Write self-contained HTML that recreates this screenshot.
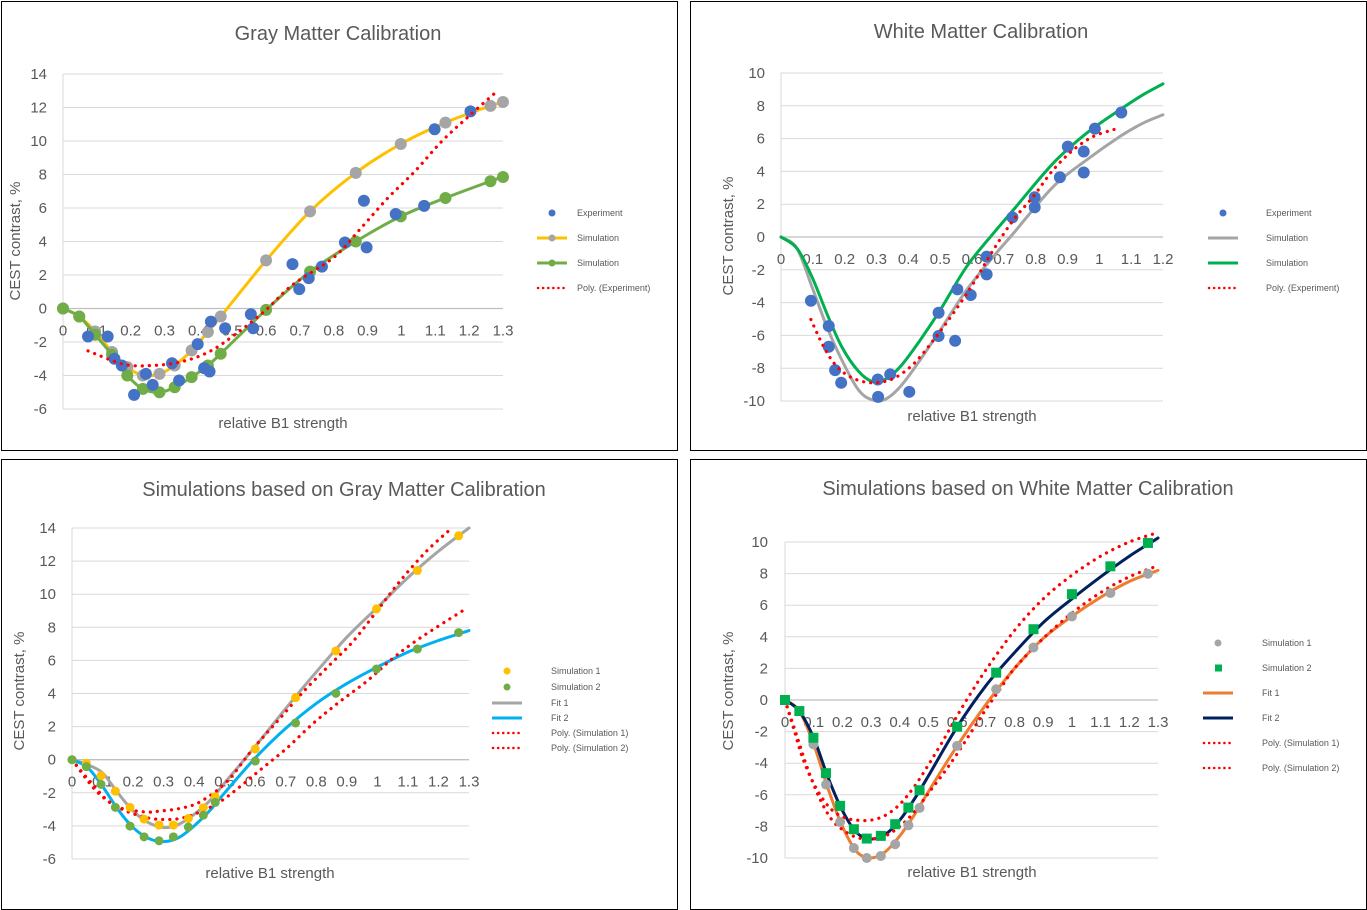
<!DOCTYPE html>
<html><head><meta charset="utf-8"><style>
body{margin:0;background:#fff;}
svg{display:block;font-family:"Liberation Sans",sans-serif;}
</style></head><body>
<svg id="root" width="1367" height="910" viewBox="0 0 1367 910"></svg>
<script>
// ---------- Panel 1: Gray Matter Calibration ----------
const gmSimX=[0,0.048,0.095,0.145,0.19,0.236,0.285,0.33,0.38,0.428,0.466,0.6,0.73,0.865,0.998,1.13,1.263,1.3];
const gmSimYellow=[0,-0.48,-1.37,-2.6,-3.5,-4.0,-3.9,-3.4,-2.5,-1.4,-0.48,2.87,5.8,8.1,9.82,11.1,12.1,12.33];
const gmSimGreen=[0,-0.48,-1.57,-2.77,-4.0,-4.8,-5.0,-4.7,-4.1,-3.4,-2.7,-0.08,2.2,4.0,5.5,6.6,7.6,7.85];
const gmExpX=[0.074,0.132,0.152,0.174,0.21,0.245,0.265,0.322,0.343,0.398,0.417,0.433,0.437,0.479,0.555,0.562,0.678,0.698,0.726,0.765,0.833,0.889,0.897,0.983,1.067,1.098,1.204];
const gmExpY=[-1.67,-1.67,-3.0,-3.4,-5.16,-3.9,-4.56,-3.27,-4.3,-2.13,-3.56,-3.76,-0.78,-1.18,-0.34,-1.18,2.65,1.16,1.81,2.5,3.94,6.43,3.65,5.64,6.13,10.7,11.77];
const gmPolyX=[0.074,0.18,0.267,0.351,0.433,0.514,0.6,0.678,0.8,0.876,0.96,1.04,1.12,1.2,1.284];
const gmPolyY=[-2.53,-3.33,-3.4,-3.17,-2.57,-1.47,-0.08,1.41,3.05,4.7,6.6,8.2,10.0,11.5,13.0];
// ---------- Panel 2: White Matter Calibration ----------
const wmSimX=[0,0.05,0.097,0.144,0.191,0.244,0.29,0.332,0.379,0.437,0.5,0.583,0.667,0.73,0.855,0.96,1.064,1.137,1.2];
const wmSimGreen=[0,-0.69,-2.42,-4.66,-6.7,-8.2,-8.83,-8.63,-7.81,-6.29,-4.46,-1.81,0.22,1.65,4.5,6.33,7.75,8.67,9.34];
const wmSimGray=[0,-0.69,-3.03,-5.47,-7.5,-9.34,-9.95,-9.85,-9.03,-7.5,-5.68,-3.23,-1.2,0.22,3.07,4.7,6.12,6.94,7.45];
const wmExpX=[0.094,0.15,0.15,0.17,0.189,0.304,0.305,0.343,0.403,0.495,0.495,0.554,0.547,0.596,0.646,0.646,0.727,0.797,0.797,0.876,0.901,0.951,0.951,0.986,1.069];
const wmExpY=[-3.89,-5.43,-6.69,-8.12,-8.89,-8.69,-9.75,-8.38,-9.44,-4.62,-6.04,-3.19,-6.33,-3.54,-1.2,-2.28,1.2,2.42,1.81,3.64,5.51,5.21,3.93,6.61,7.59];
const wmPolyX=[0.094,0.134,0.176,0.228,0.29,0.353,0.416,0.479,0.541,0.604,0.667,0.73,0.792,0.855,0.918,0.98,1.048];
const wmPolyY=[-5.03,-6.69,-7.91,-8.63,-8.89,-8.63,-7.75,-6.29,-4.66,-2.83,-0.79,1.04,2.46,4.09,5.31,6.12,6.57];
// ---------- Panel 3: Simulations based on GM ----------
const sgX=[0,0.047,0.095,0.142,0.19,0.236,0.285,0.332,0.381,0.43,0.469,0.6,0.732,0.864,0.997,1.131,1.266];
const sgSim1=[0,-0.22,-0.97,-1.9,-2.88,-3.59,-3.95,-3.95,-3.55,-2.9,-2.24,0.65,3.75,6.57,9.11,11.43,13.53];
const sgSim2=[0,-0.42,-1.49,-2.88,-4.01,-4.66,-4.9,-4.66,-4.07,-3.35,-2.58,-0.08,2.22,4.01,5.48,6.69,7.68];
const sgFitX=[0,0.05,0.1,0.15,0.2,0.25,0.3,0.35,0.4,0.45,0.5,0.6,0.7,0.8,0.9,1.0,1.1,1.2,1.3];
const sgFit1=[0,-0.3,-0.8,-2.0,-3.1,-3.8,-4.1,-3.9,-3.3,-2.5,-1.4,0.8,3.1,5.3,7.4,9.2,11.0,12.6,14.0];
const sgFit2=[0,-0.45,-1.6,-3.0,-4.1,-4.75,-4.95,-4.7,-4.0,-3.1,-2.0,0.1,1.9,3.4,4.6,5.6,6.5,7.2,7.8];
const sgPoly1X=[0,0.06,0.136,0.234,0.289,0.354,0.42,0.507,0.594,0.681,0.768,0.855,0.92,0.997,1.073,1.16,1.231];
const sgPoly1Y=[0,-1.33,-2.74,-3.15,-3.1,-2.94,-2.54,-1.33,0.69,2.5,4.31,5.93,7.14,8.95,10.77,12.58,13.79];
const sgPoly2X=[0,0.082,0.158,0.234,0.289,0.354,0.42,0.485,0.55,0.616,0.703,0.79,0.877,0.964,1.051,1.139,1.28];
const sgPoly2Y=[0,-1.94,-2.94,-3.45,-3.61,-3.55,-3.15,-2.54,-1.63,-0.62,0.69,2.2,3.51,4.72,6.13,7.34,9.01];
// ---------- Panel 4: Simulations based on WM ----------
const swX=[0,0.05,0.099,0.143,0.192,0.24,0.285,0.334,0.384,0.43,0.469,0.6,0.736,0.866,1.0,1.134,1.265];
const swSim1=[0,-0.7,-2.81,-5.35,-7.72,-9.37,-10.0,-9.87,-9.13,-7.93,-6.83,-2.9,0.68,3.32,5.29,6.77,7.99];
const swSim2=[0,-0.7,-2.39,-4.63,-6.7,-8.18,-8.77,-8.6,-7.86,-6.81,-5.71,-1.69,1.73,4.48,6.7,8.46,9.94];
const swFitX=[0,0.05,0.1,0.15,0.2,0.25,0.3,0.35,0.4,0.45,0.5,0.6,0.7,0.8,0.9,1.0,1.1,1.2,1.3];
const swFit1=[0,-0.7,-2.8,-5.6,-8.0,-9.6,-10.0,-9.6,-8.6,-7.3,-5.8,-2.9,-0.3,2.0,3.9,5.3,6.5,7.5,8.2];
const swFit2=[0,-0.7,-2.4,-4.9,-7.0,-8.4,-8.8,-8.5,-7.6,-6.3,-4.8,-1.7,0.9,3.0,4.9,6.4,7.8,9.1,10.25];
const swPoly1X=[0,0.03,0.06,0.1,0.15,0.2,0.25,0.3,0.35,0.4,0.45,0.5,0.55,0.6,0.65,0.7,0.8,0.9,1.0,1.1,1.2,1.3];
const swPoly1Y=[0,-1.8,-3.6,-5.3,-6.7,-7.4,-7.6,-7.6,-7.3,-6.6,-5.5,-4.1,-2.6,-1.0,0.5,1.9,4.4,6.4,7.9,9.1,10.0,10.6];
const swPoly2X=[0,0.04,0.08,0.12,0.16,0.2,0.25,0.3,0.35,0.4,0.45,0.5,0.55,0.6,0.65,0.7,0.75,0.8,0.9,1.0,1.1,1.2,1.3];
const swPoly2Y=[0,-2.2,-4.4,-6.2,-7.5,-8.2,-8.7,-8.8,-8.6,-8.0,-7.1,-5.9,-4.7,-3.4,-2.0,-0.6,0.7,2.0,3.9,5.5,6.8,7.8,8.5];

const xTicks13=['0','0.1','0.2','0.3','0.4','0.5','0.6','0.7','0.8','0.9','1','1.1','1.2','1.3'];
const xTicks12=['0','0.1','0.2','0.3','0.4','0.5','0.6','0.7','0.8','0.9','1','1.1','1.2'];

const NS='http://www.w3.org/2000/svg';
const root=document.getElementById('root');
function mk(tag,attrs,parent){const e=document.createElementNS(NS,tag);for(const k in attrs)e.setAttribute(k,attrs[k]);(parent||root).appendChild(e);return e;}
function smooth(pts){
  if(pts.length<2)return '';
  let d='M'+pts[0][0].toFixed(1)+','+pts[0][1].toFixed(1);
  for(let i=0;i<pts.length-1;i++){
    const p0=pts[i-1]||pts[i],p1=pts[i],p2=pts[i+1],p3=pts[i+2]||p2;
    const c1=[p1[0]+(p2[0]-p0[0])/6,p1[1]+(p2[1]-p0[1])/6];
    const c2=[p2[0]-(p3[0]-p1[0])/6,p2[1]-(p3[1]-p1[1])/6];
    d+='C'+c1[0].toFixed(1)+','+c1[1].toFixed(1)+' '+c2[0].toFixed(1)+','+c2[1].toFixed(1)+' '+p2[0].toFixed(1)+','+p2[1].toFixed(1);
  }
  return d;
}
function panel(cfg){
  const g=mk('g',{});
  
  
  const b=mk('rect',{x:cfg.box[0]+0.5,y:cfg.box[1]+0.5,width:cfg.box[2],height:cfg.box[3],fill:'#fff',stroke:'#000','stroke-width':1},g);
  
  
  const sx=v=>cfg.x0+(v-0)/cfg.xmax*(cfg.x1-cfg.x0);
  const sy=v=>cfg.yTop+(cfg.ymax-v)/(cfg.ymax-cfg.ymin)*(cfg.yBot-cfg.yTop);
  for(let v=cfg.ymin;v<=cfg.ymax;v+=2){
    const ln=mk('line',{x1:cfg.x0,x2:cfg.x1,y1:sy(v),y2:sy(v),stroke:v===0?'#bfbfbf':'#d9d9d9','stroke-width':v===0?1.3:1},g);
    
    
    const t=mk('text',{x:cfg.x0-cfg.ylabOff,y:sy(v)+5,'text-anchor':'end','font-size':15,fill:'#595959'},g);
    t.textContent=String(v);
    
    
  }
  const ax=mk('line',{x1:cfg.x0,x2:cfg.x0,y1:cfg.yTop,y2:cfg.yBot,stroke:'#d9d9d9','stroke-width':1},g);
  
  
  cfg.xticks.forEach((lab,i)=>{
    const t=mk('text',{x:sx(i*0.1),y:sy(0)+27,'text-anchor':'middle','font-size':15,fill:'#595959'},g);
    t.textContent=lab;
    
    
  });
  const tt=mk('text',{x:cfg.title[1],y:cfg.title[2],'text-anchor':'middle','font-size':20,fill:'#595959'},g);
  tt.textContent=cfg.title[0];
  
  
  const xt=mk('text',{x:cfg.xtitle[0],y:cfg.xtitle[1],'text-anchor':'middle','font-size':15,fill:'#595959'},g);
  xt.textContent='relative B1 strength';
  
  
  const yt=mk('text',{x:0,y:0,'text-anchor':'middle','font-size':15,fill:'#595959',transform:'translate('+cfg.ytitle[0]+','+cfg.ytitle[1]+') rotate(-90)'},g);
  yt.textContent='CEST contrast, %';
  
  
  cfg.series.forEach(s=>{
    const pts=s.x.map((xv,i)=>[sx(xv),sy(s.y[i])]);
    if(s.type==='line'||s.type==='dot'){
      const p=mk('path',{d:smooth(pts),fill:'none',stroke:s.color,'stroke-width':s.type==='dot'?3.2:3,'stroke-linecap':'round','stroke-linejoin':'round'},g);
      if(s.type==='dot')p.setAttribute('stroke-dasharray','0.1 7');
      
      
    }
    if(s.marker){
      pts.forEach(pt=>{
        let m;
        if(s.marker==='sq')m=mk('rect',{x:pt[0]-5,y:pt[1]-5,width:10,height:10,fill:s.mcolor},g);
        else m=mk('circle',{cx:pt[0],cy:pt[1],r:s.r||5,fill:s.mcolor},g);
        
        
      });
    }
  });
  cfg.legend.items.forEach((it,i)=>{
    const y=cfg.legend.ys[i];const lx=cfg.legend.x;
    const lg=mk('g',{},g);
    
    
    if(it.kind==='circle')mk('circle',{cx:lx+15,cy:y,r:3.5,fill:it.color},lg);
    else if(it.kind==='sq')mk('rect',{x:lx+12,y:y-3.5,width:7,height:7,fill:it.color},lg);
    else if(it.kind==='linec'){mk('line',{x1:lx,x2:lx+30,y1:y,y2:y,stroke:it.color,'stroke-width':3},lg);mk('circle',{cx:lx+15,cy:y,r:3.5,fill:it.mcolor},lg);}
    else if(it.kind==='line')mk('line',{x1:lx,x2:lx+30,y1:y,y2:y,stroke:it.color,'stroke-width':3},lg);
    else mk('line',{x1:lx+1,x2:lx+30,y1:y,y2:y,stroke:it.color,'stroke-width':2.5,'stroke-dasharray':'0.1 5','stroke-linecap':'round'},lg);
    const t=mk('text',{x:lx+cfg.legend.tx,y:y+3,'font-size':9,fill:'#595959'},lg);
    t.textContent=it.label;
  });
}
panel({name:'gray-matter-calibration-chart',box:[1,1,676,449],x0:63,x1:503,xmax:1.3,yTop:74,yBot:409,ymin:-6,ymax:14,ylabOff:16,xticks:xTicks13,
  title:['Gray Matter Calibration',338,40],xtitle:[283,428],ytitle:[20,241],
  series:[
    {type:'line',x:gmSimX,y:gmSimYellow,color:'#FFC000',marker:'c',mcolor:'#A5A5A5',r:6,dname:'simulation-yellow-line'},
    {type:'line',x:gmSimX,y:gmSimGreen,color:'#70AD47',marker:'c',mcolor:'#70AD47',r:6,dname:'simulation-green-line'},
    {type:'none',x:gmExpX,y:gmExpY,marker:'c',mcolor:'#4472C4',r:6,dname:'experiment'},
    {type:'dot',x:gmPolyX,y:gmPolyY,color:'#FF0000',dname:'poly-experiment-trend'}],
  legend:{x:537,tx:40,ys:[213,238,263,288],items:[{kind:'circle',color:'#4472C4',label:'Experiment'},{kind:'linec',color:'#FFC000',mcolor:'#A5A5A5',label:'Simulation'},{kind:'linec',color:'#70AD47',mcolor:'#70AD47',label:'Simulation'},{kind:'dot',color:'#FF0000',label:'Poly. (Experiment)'}]}});
panel({name:'white-matter-calibration-chart',box:[690,1,676,449],x0:781,x1:1163,xmax:1.2,yTop:73,yBot:401,ymin:-10,ymax:10,ylabOff:16,xticks:xTicks12,
  title:['White Matter Calibration',981,38],xtitle:[972,421],ytitle:[733,236],
  series:[
    {type:'line',x:wmSimX,y:wmSimGray,color:'#A5A5A5',dname:'simulation-gray-line'},
    {type:'line',x:wmSimX,y:wmSimGreen,color:'#00B050',dname:'simulation-green-line'},
    {type:'none',x:wmExpX,y:wmExpY,marker:'c',mcolor:'#4472C4',r:6,dname:'experiment'},
    {type:'dot',x:wmPolyX,y:wmPolyY,color:'#FF0000',dname:'poly-experiment-trend'}],
  legend:{x:1208,tx:58,ys:[213,238,263,288],items:[{kind:'circle',color:'#4472C4',label:'Experiment'},{kind:'line',color:'#A5A5A5',label:'Simulation'},{kind:'line',color:'#00B050',label:'Simulation'},{kind:'dot',color:'#FF0000',label:'Poly. (Experiment)'}]}});
panel({name:'gm-simulations-chart',box:[1,459,676,450],x0:72,x1:469,xmax:1.3,yTop:528,yBot:859,ymin:-6,ymax:14,ylabOff:16,xticks:xTicks13,
  title:['Simulations based on Gray Matter Calibration',344,496],xtitle:[270,878],ytitle:[24,691],
  series:[
    {type:'line',x:sgFitX,y:sgFit1,color:'#A5A5A5',dname:'fit-1-line'},
    {type:'line',x:sgFitX,y:sgFit2,color:'#00B0F0',dname:'fit-2-line'},
    {type:'dot',x:sgPoly1X,y:sgPoly1Y,color:'#FF0000',dname:'poly-simulation-1'},
    {type:'dot',x:sgPoly2X,y:sgPoly2Y,color:'#FF0000',dname:'poly-simulation-2'},
    {type:'none',x:sgX,y:sgSim1,marker:'c',mcolor:'#FFC000',r:4.5,dname:'simulation-1'},
    {type:'none',x:sgX,y:sgSim2,marker:'c',mcolor:'#70AD47',r:4.5,dname:'simulation-2'}],
  legend:{x:492,tx:59,ys:[671,687,703,718,733,748],items:[{kind:'circle',color:'#FFC000',label:'Simulation 1'},{kind:'circle',color:'#70AD47',label:'Simulation 2'},{kind:'line',color:'#A5A5A5',label:'Fit 1'},{kind:'line',color:'#00B0F0',label:'Fit 2'},{kind:'dot',color:'#FF0000',label:'Poly. (Simulation 1)'},{kind:'dot',color:'#FF0000',label:'Poly. (Simulation 2)'}]}});
panel({name:'wm-simulations-chart',box:[690,459,676,450],x0:785,x1:1158,xmax:1.3,yTop:542,yBot:858,ymin:-10,ymax:10,ylabOff:17,xticks:xTicks13,
  title:['Simulations based on White Matter Calibration',1028,495],xtitle:[972,877],ytitle:[733,691],
  series:[
    {type:'line',x:swFitX,y:swFit1,color:'#ED7D31',dname:'fit-1-line'},
    {type:'line',x:swFitX,y:swFit2,color:'#002060',dname:'fit-2-line'},
    {type:'dot',x:swPoly1X,y:swPoly1Y,color:'#FF0000',dname:'poly-simulation-1'},
    {type:'dot',x:swPoly2X,y:swPoly2Y,color:'#FF0000',dname:'poly-simulation-2'},
    {type:'none',x:swX,y:swSim1,marker:'c',mcolor:'#A5A5A5',r:5,dname:'simulation-1'},
    {type:'none',x:swX,y:swSim2,marker:'sq',mcolor:'#00B050',dname:'simulation-2'}],
  legend:{x:1203,tx:59,ys:[643,668,693,718,743,768],items:[{kind:'circle',color:'#A5A5A5',label:'Simulation 1'},{kind:'sq',color:'#00B050',label:'Simulation 2'},{kind:'line',color:'#ED7D31',label:'Fit 1'},{kind:'line',color:'#002060',label:'Fit 2'},{kind:'dot',color:'#FF0000',label:'Poly. (Simulation 1)'},{kind:'dot',color:'#FF0000',label:'Poly. (Simulation 2)'}]}});
</script>
</body></html>
